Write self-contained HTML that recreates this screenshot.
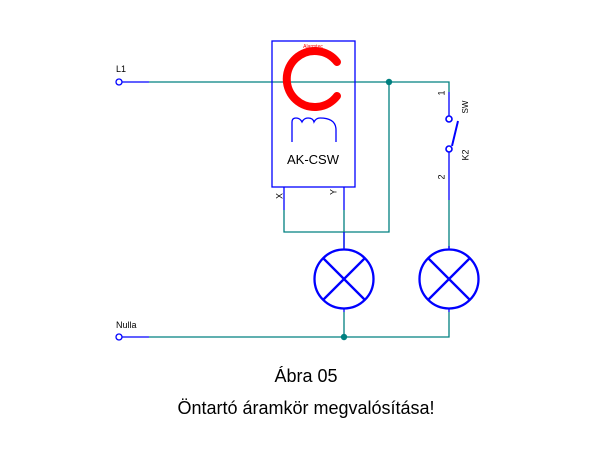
<!DOCTYPE html>
<html><head><style>body{margin:0;background:#fff}svg{display:block}</style></head><body>
<svg width="600" height="450" xmlns="http://www.w3.org/2000/svg" font-family="Liberation Sans, sans-serif">
<g fill="none" stroke="#008080" stroke-width="1.3">
<path d="M149 82H449V92"/>
<path d="M389 82V232H284V210"/>
<path d="M344 210V248"/>
<path d="M449 200V248"/>
<path d="M149 337H449V312"/>
<path d="M344 312V337"/>
</g>
<g fill="none" stroke="#0000ff" stroke-width="1.3">
<path d="M122 82H149M122 337H149"/>
<circle cx="119" cy="82" r="3"/><circle cx="119" cy="337" r="3"/>
<path d="M449 92V116M449 152V200"/>
<circle cx="449" cy="119" r="3" stroke-width="1.6"/><circle cx="449" cy="149" r="3" stroke-width="1.6"/>
<path d="M452 146L458 121" stroke-width="2"/>
<rect x="272" y="41" width="83" height="146"/>
<path d="M284 187V210M344 187V210M344 232V250M344 309V312M449 246V250M449 309V312"/>
<path d="M292 142V122Q292 118 296 118Q300 118 302 122Q304 118 308 118Q313 118 314 122Q316 118 320 118Q336 118 336 130V142"/>
</g>
<g fill="none" stroke="#0000ff" stroke-width="2.3">
<circle cx="344" cy="279" r="29.5"/><circle cx="449" cy="279" r="29.5"/>
<path d="M323 258L365 300M365 258L323 300M428 258L470 300M470 258L428 300"/>
</g>
<path d="M337 62A28 28 0 1 0 337 96" fill="none" stroke="#ff0000" stroke-width="8" stroke-linecap="round"/>
<text x="313" y="48" font-size="5" fill="#ff0000" text-anchor="middle">Alarmtec</text>
<circle cx="389" cy="82" r="3.2" fill="#008080"/>
<circle cx="344" cy="337" r="3.2" fill="#008080"/>
<text x="313" y="164" font-size="13" text-anchor="middle">AK-CSW</text>
<text x="116" y="72" font-size="9">L1</text>
<text x="116" y="328" font-size="9">Nulla</text>
<text font-size="9" transform="translate(280 196) rotate(-90)" text-anchor="middle" dominant-baseline="middle">X</text>
<text font-size="9" transform="translate(334 192) rotate(-90)" text-anchor="middle" dominant-baseline="middle">Y</text>
<text font-size="9" transform="translate(442 93) rotate(-90)" text-anchor="middle" dominant-baseline="middle">1</text>
<text font-size="9" transform="translate(442 177) rotate(-90)" text-anchor="middle" dominant-baseline="middle">2</text>
<text font-size="8" transform="translate(466 107) rotate(-90)" text-anchor="middle" dominant-baseline="middle">SW</text>
<text font-size="9" transform="translate(466 155) rotate(-90)" text-anchor="middle" dominant-baseline="middle">K2</text>
<text x="306" y="382" font-size="18" text-anchor="middle">Ábra 05</text>
<text x="306" y="414" font-size="18" text-anchor="middle">Öntartó áramkör megvalósítása!</text>
</svg>
</body></html>
